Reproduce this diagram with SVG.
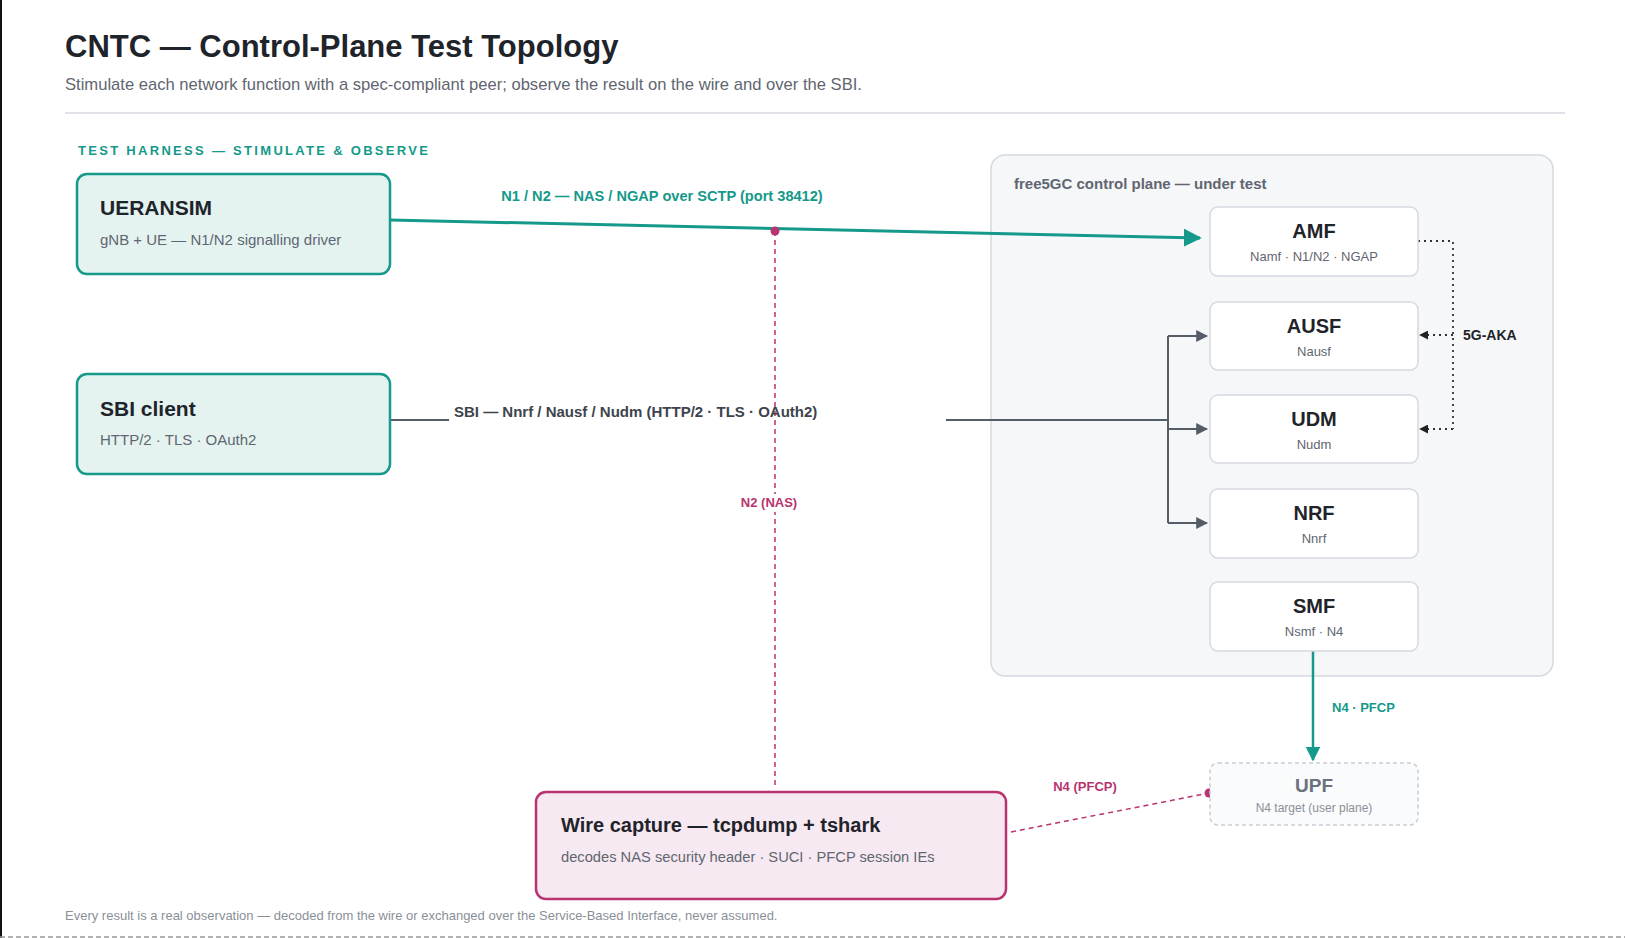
<svg xmlns="http://www.w3.org/2000/svg" width="1625" height="938" viewBox="0 0 1625 938">
<style>
text{font-family:"Liberation Sans",Arial,sans-serif}
.h{fill:#1f242b;font-weight:bold}
.s{fill:#5f6670}
.nf{fill:#fff;stroke:#d5dae1;stroke-width:1.5}
.nt{font-size:20px;font-weight:bold;fill:#1f242b;text-anchor:middle}
.ns{font-size:13px;fill:#5f6670;text-anchor:middle}
.harn{fill:#e5f3f0;stroke:#14998a;stroke-width:2.5}
</style>
<defs>
<marker id="at" viewBox="0 0 10 10" refX="9" refY="5" markerWidth="6" markerHeight="6" orient="auto" markerUnits="strokeWidth"><path d="M0,0L10,5L0,10z" fill="#14998a"/></marker>
<marker id="ag" viewBox="0 0 10 10" refX="9" refY="5" markerWidth="6" markerHeight="6" orient="auto" markerUnits="strokeWidth"><path d="M0,0L10,5L0,10z" fill="#555d67"/></marker>
<marker id="ak" viewBox="0 0 10 10" refX="9" refY="5" markerWidth="5" markerHeight="5" orient="auto" markerUnits="strokeWidth"><path d="M0,0L10,5L0,10z" fill="#222"/></marker>
</defs>
<rect width="1625" height="938" fill="#fff"/>
<rect x="0" y="0" width="2" height="938" fill="#111"/>
<text x="65" y="57" font-size="31" class="h">CNTC — Control-Plane Test Topology</text>
<text x="65" y="90" font-size="16.6" class="s">Stimulate each network function with a spec-compliant peer; observe the result on the wire and over the SBI.</text>
<line x1="65" y1="113" x2="1565" y2="113" stroke="#d5dae1" stroke-width="1.5"/>
<text x="78" y="155" font-size="13" font-weight="bold" fill="#14998a" letter-spacing="2.3">TEST HARNESS — STIMULATE &amp; OBSERVE</text>

<g id="container"><rect x="991" y="155" width="562" height="521" rx="14" fill="#f5f7f9" stroke="#d5dae1" stroke-width="1.5"/>
<text x="1014" y="189" font-size="15" font-weight="bold" fill="#5f6670">free5GC control plane — under test</text></g>

<g id="connectors">
<line x1="390" y1="220" x2="1200" y2="238" stroke="#14998a" stroke-width="3" marker-end="url(#at)"/>
<text x="662" y="201" font-size="14.6" font-weight="bold" fill="#14998a" text-anchor="middle">N1 / N2 — NAS / NGAP over SCTP (port 38412)</text>
<line x1="775" y1="231" x2="775" y2="788" stroke="#b8336f" stroke-width="1.5" stroke-dasharray="5,4"/>
<circle cx="775" cy="231" r="4.5" fill="#b8336f"/>
<rect x="737" y="494" width="64" height="18" fill="#fff"/>
<text x="769" y="507" font-size="13" font-weight="bold" fill="#b8336f" text-anchor="middle">N2 (NAS)</text>
<path d="M390 420H449M946 420H1168" fill="none" stroke="#555d67" stroke-width="2"/>
<text x="454" y="417" font-size="15" font-weight="bold" fill="#3d444d">SBI — Nnrf / Nausf / Nudm (HTTP/2 · TLS · OAuth2)</text>
<path d="M1168 336V523" fill="none" stroke="#555d67" stroke-width="2"/>
<line x1="1168" y1="336" x2="1207" y2="336" stroke="#555d67" stroke-width="2" marker-end="url(#ag)"/>
<line x1="1168" y1="429" x2="1207" y2="429" stroke="#555d67" stroke-width="2" marker-end="url(#ag)"/>
<line x1="1168" y1="523" x2="1207" y2="523" stroke="#555d67" stroke-width="2" marker-end="url(#ag)"/>
<path d="M1418 241H1453V429" fill="none" stroke="#333" stroke-width="1.8" stroke-dasharray="2,4"/>
<line x1="1453" y1="335" x2="1420" y2="335" stroke="#333" stroke-width="1.8" stroke-dasharray="2,4" marker-end="url(#ak)"/>
<line x1="1453" y1="429" x2="1420" y2="429" stroke="#333" stroke-width="1.8" stroke-dasharray="2,4" marker-end="url(#ak)"/>
<text x="1463" y="340" font-size="14" font-weight="bold" fill="#1f242b">5G-AKA</text>
<line x1="1313" y1="651" x2="1313" y2="760" stroke="#14998a" stroke-width="2.5" marker-end="url(#at)"/>
<text x="1332" y="712" font-size="13" font-weight="bold" fill="#14998a">N4 · PFCP</text>
<line x1="1011" y1="832" x2="1209" y2="793" stroke="#b8336f" stroke-width="1.5" stroke-dasharray="5,4"/>
<circle cx="1209" cy="793" r="4.5" fill="#b8336f"/>
<text x="1085" y="791" font-size="13" font-weight="bold" fill="#b8336f" text-anchor="middle">N4 (PFCP)</text>
</g>

<g id="ueransim"><rect x="77" y="174" width="313" height="100" rx="10" class="harn"/>
<text x="100" y="215" font-size="21" class="h">UERANSIM</text>
<text x="100" y="245" font-size="15" class="s">gNB + UE — N1/N2 signalling driver</text></g>
<g id="sbi-client"><rect x="77" y="374" width="313" height="100" rx="10" class="harn"/>
<text x="100" y="416" font-size="21" class="h">SBI client</text>
<text x="100" y="445" font-size="15" class="s">HTTP/2 · TLS · OAuth2</text></g>

<g id="amf"><rect x="1210" y="207" width="208" height="69" rx="8" class="nf"/><text x="1314" y="238" class="nt">AMF</text><text x="1314" y="261" class="ns">Namf · N1/N2 · NGAP</text></g>
<g id="ausf"><rect x="1210" y="302" width="208" height="68" rx="8" class="nf"/><text x="1314" y="333" class="nt">AUSF</text><text x="1314" y="356" class="ns">Nausf</text></g>
<g id="udm"><rect x="1210" y="395" width="208" height="68" rx="8" class="nf"/><text x="1314" y="426" class="nt">UDM</text><text x="1314" y="449" class="ns">Nudm</text></g>
<g id="nrf"><rect x="1210" y="489" width="208" height="69" rx="8" class="nf"/><text x="1314" y="520" class="nt">NRF</text><text x="1314" y="543" class="ns">Nnrf</text></g>
<g id="smf"><rect x="1210" y="582" width="208" height="69" rx="8" class="nf"/><text x="1314" y="613" class="nt">SMF</text><text x="1314" y="636" class="ns">Nsmf · N4</text></g>
<g id="upf"><rect x="1210" y="763" width="208" height="62" rx="8" fill="#fafbfc" stroke="#c9ced5" stroke-width="1.5" stroke-dasharray="4,3"/>
<text x="1314" y="792" font-size="19" font-weight="bold" fill="#6b727c" text-anchor="middle">UPF</text>
<text x="1314" y="812" font-size="12" fill="#8a9099" text-anchor="middle">N4 target (user plane)</text></g>
<g id="wire-capture"><rect x="536" y="792" width="470" height="107" rx="10" fill="#f7e9f1" stroke="#b8336f" stroke-width="2.5"/>
<text x="561" y="832" font-size="20" class="h">Wire capture — tcpdump + tshark</text>
<text x="561" y="862" font-size="14.7" class="s">decodes NAS security header · SUCI · PFCP session IEs</text></g>

<text x="65" y="920" font-size="13" fill="#8a9099">Every result is a real observation — decoded from the wire or exchanged over the Service-Based Interface, never assumed.</text>
<line x1="0" y1="937" x2="1625" y2="937" stroke="#999" stroke-width="1.5" stroke-dasharray="5,3"/>
</svg>
